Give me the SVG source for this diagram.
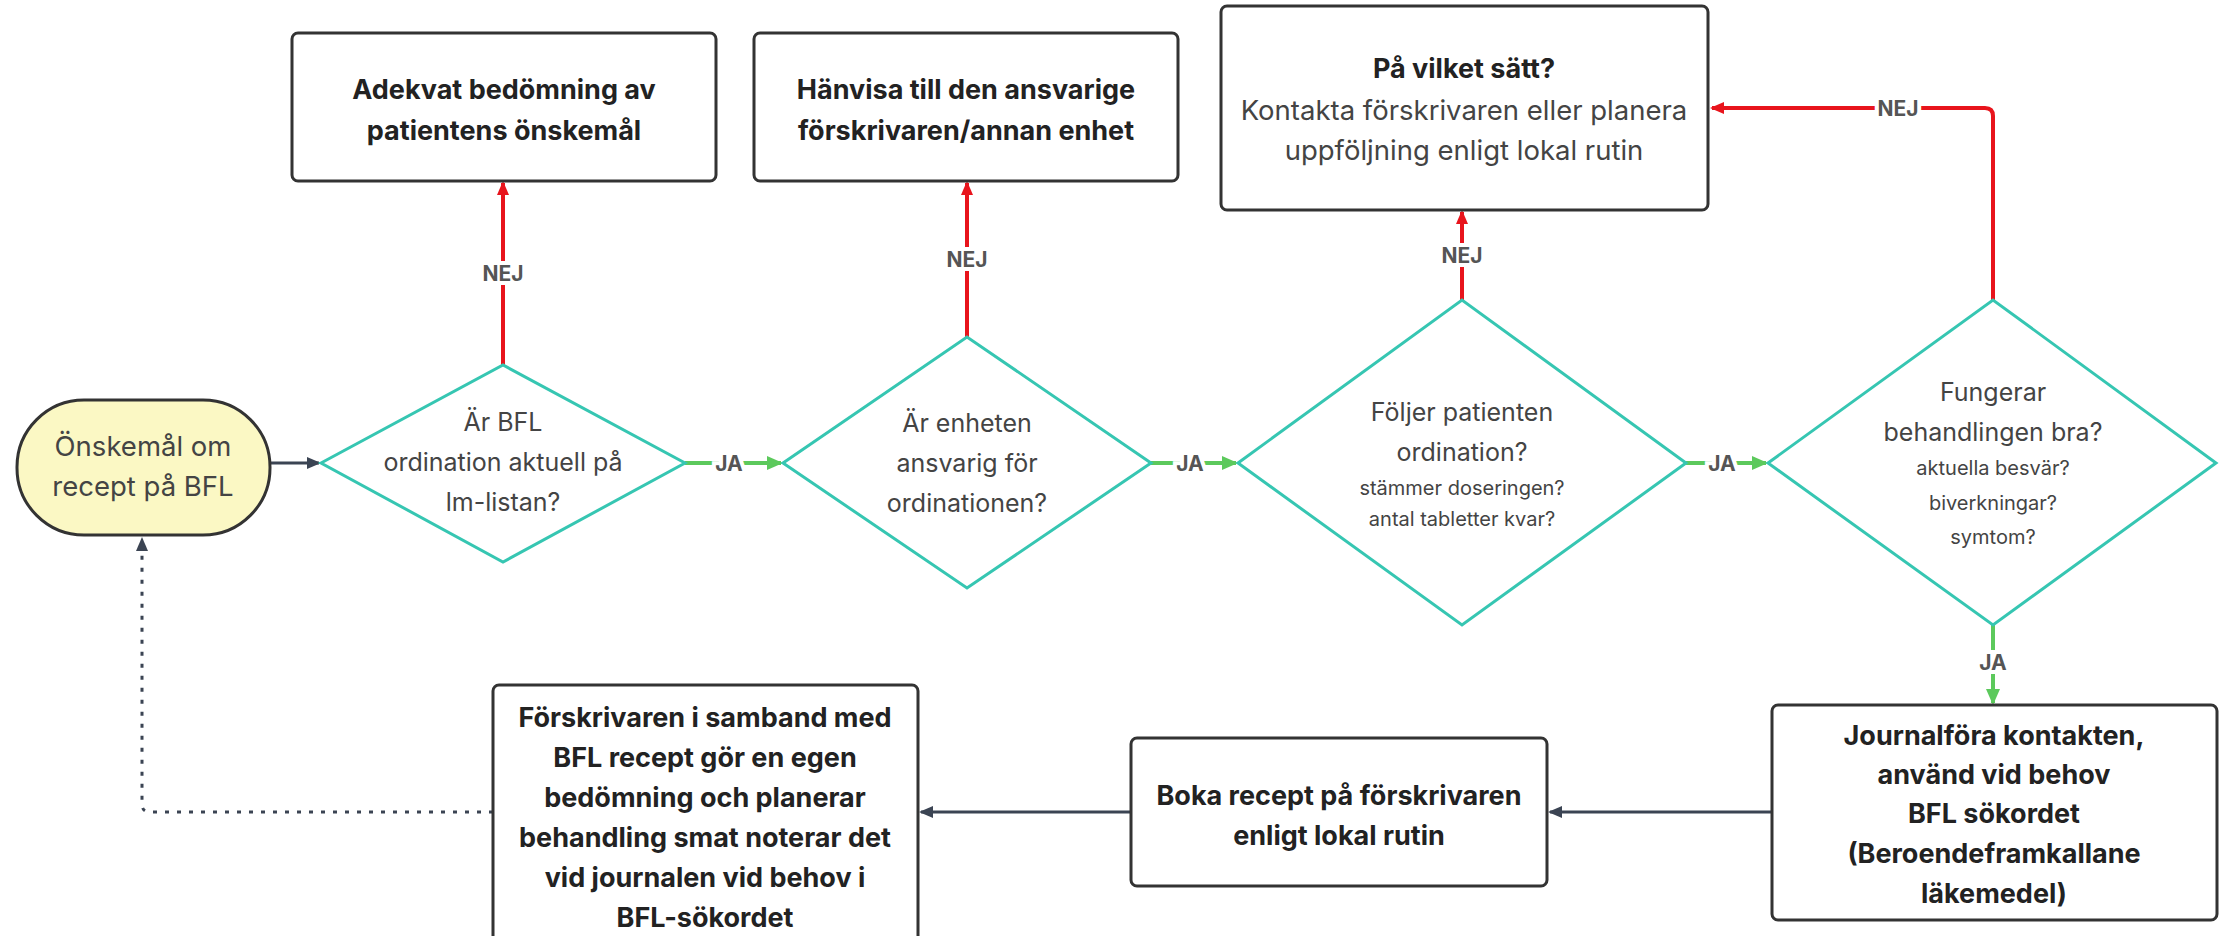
<svg xmlns="http://www.w3.org/2000/svg" width="2226" height="936" viewBox="0 0 2226 936">
<style>
.box{fill:#fff;stroke:#333;stroke-width:3}
.dia{fill:#fff;stroke:#36c6b2;stroke-width:3}
.start{fill:#fbf8c4;stroke:#333;stroke-width:3}
.t{font-family:Inter,"Liberation Sans",sans-serif;font-size:25px;fill:#444;text-anchor:middle;dominant-baseline:central}
.tl{font-family:Inter,"Liberation Sans",sans-serif;font-size:27.5px;fill:#444;text-anchor:middle;dominant-baseline:central}
.tb{font-family:Inter,"Liberation Sans",sans-serif;font-size:27px;font-weight:bold;fill:#222;text-anchor:middle;dominant-baseline:central}
.ts{font-family:Inter,"Liberation Sans",sans-serif;font-size:20px;fill:#444;text-anchor:middle;dominant-baseline:central}
.lbl{font-family:Inter,"Liberation Sans",sans-serif;font-size:21px;font-weight:bold;fill:#555;text-anchor:middle;dominant-baseline:central;stroke:#fff;stroke-width:8;paint-order:stroke}
.red{fill:none;stroke:#e8141c;stroke-width:4}
.green{fill:none;stroke:#5cc95c;stroke-width:4}
.dark{fill:none;stroke:#3b4453;stroke-width:3}
</style>
<defs>
<marker id="ar" markerWidth="14" markerHeight="14" refX="12" refY="7" orient="auto" markerUnits="userSpaceOnUse"><path d="M0,1 L14,7 L0,13 Z" fill="#e8141c"/></marker>
<marker id="ag" markerWidth="16" markerHeight="16" refX="14" refY="8" orient="auto" markerUnits="userSpaceOnUse"><path d="M0,1 L16,8 L0,15 Z" fill="#5cc95c"/></marker>
<marker id="ad" markerWidth="14" markerHeight="14" refX="12" refY="7" orient="auto" markerUnits="userSpaceOnUse"><path d="M0,1 L14,7 L0,13 Z" fill="#3b4453"/></marker>
</defs>

<g id="connectors">
<line class="dark" x1="270" y1="463" x2="319" y2="463" stroke-width="4" marker-end="url(#ad)"/>
<line class="red" x1="503" y1="365" x2="503" y2="183" marker-end="url(#ar)"/>
<text class="lbl" x="503" y="273">NEJ</text>
<line class="green" x1="685" y1="463" x2="781" y2="463" marker-end="url(#ag)"/>
<text class="lbl" x="729" y="463">JA</text>
<line class="red" x1="967" y1="337" x2="967" y2="183" marker-end="url(#ar)"/>
<text class="lbl" x="967" y="259">NEJ</text>
<line class="green" x1="1151" y1="463" x2="1236" y2="463" marker-end="url(#ag)"/>
<text class="lbl" x="1190" y="463">JA</text>
<line class="red" x1="1462" y1="300" x2="1462" y2="212" marker-end="url(#ar)"/>
<text class="lbl" x="1462" y="255">NEJ</text>
<line class="green" x1="1686" y1="463" x2="1766" y2="463" marker-end="url(#ag)"/>
<text class="lbl" x="1722" y="463">JA</text>
<path class="red" d="M1993,300 V116 Q1993,108 1985,108 H1712" marker-end="url(#ar)"/>
<text class="lbl" x="1898" y="108">NEJ</text>
<line class="green" x1="1993" y1="625" x2="1993" y2="703" marker-end="url(#ag)"/>
<text class="lbl" x="1993" y="662">JA</text>
<line class="dark" x1="1772" y1="812" x2="1550" y2="812" marker-end="url(#ad)"/>
<line class="dark" x1="1131" y1="812" x2="921" y2="812" marker-end="url(#ad)"/>
<path class="dark" d="M493,812 H150 Q142,812 142,804 V539" stroke-dasharray="4 8" marker-end="url(#ad)"/>
</g>

<g id="start">
<rect class="start" x="17" y="400" width="253" height="135" rx="67"/>
<text class="tl" x="143" y="446">Önskemål om</text>
<text class="tl" x="143" y="486">recept på BFL</text>
</g>

<g id="d1">
<polygon class="dia" points="321,463 503,365 685,463 503,562"/>
<text class="t" x="503" y="422">Är BFL</text>
<text class="t" x="503" y="462">ordination aktuell på</text>
<text class="t" x="503" y="502">lm-listan?</text>
</g>

<g id="box1">
<rect class="box" x="292" y="33" width="424" height="148" rx="6"/>
<text class="tb" x="504" y="89">Adekvat bedömning av</text>
<text class="tb" x="504" y="130">patientens önskemål</text>
</g>

<g id="d2">
<polygon class="dia" points="783,463 967,337 1151,463 967,588"/>
<text class="t" x="967" y="423">Är enheten</text>
<text class="t" x="967" y="463">ansvarig för</text>
<text class="t" x="967" y="503">ordinationen?</text>
</g>

<g id="box2">
<rect class="box" x="754" y="33" width="424" height="148" rx="6"/>
<text class="tb" x="966" y="89">Hänvisa till den ansvarige</text>
<text class="tb" x="966" y="130">förskrivaren/annan enhet</text>
</g>

<g id="d3">
<polygon class="dia" points="1238,463 1462,300 1686,463 1462,625"/>
<text class="t" x="1462" y="412">Följer patienten</text>
<text class="t" x="1462" y="452">ordination?</text>
<text class="ts" x="1462" y="488">stämmer doseringen?</text>
<text class="ts" x="1462" y="519">antal tabletter kvar?</text>
</g>

<g id="box3">
<rect class="box" x="1221" y="6" width="487" height="204" rx="6"/>
<text class="tb" x="1464" y="68">På vilket sätt?</text>
<text class="tl" x="1464" y="110">Kontakta förskrivaren eller planera</text>
<text class="tl" x="1464" y="150">uppföljning enligt lokal rutin</text>
</g>

<g id="d4">
<polygon class="dia" points="1768,463 1993,300 2216,463 1993,625"/>
<text class="t" x="1993" y="392">Fungerar</text>
<text class="t" x="1993" y="432">behandlingen bra?</text>
<text class="ts" x="1993" y="468">aktuella besvär?</text>
<text class="ts" x="1993" y="503">biverkningar?</text>
<text class="ts" x="1993" y="537">symtom?</text>
</g>

<g id="box_journal">
<rect class="box" x="1772" y="705" width="445" height="215" rx="6"/>
<text class="tb" x="1994" y="735" font-size="31">Journalföra kontakten,</text>
<text class="tb" x="1994" y="774" font-size="31">använd vid behov</text>
<text class="tb" x="1994" y="813" font-size="31">BFL sökordet</text>
<text class="tb" x="1994" y="853" font-size="31">(Beroendeframkallane</text>
<text class="tb" x="1994" y="893" font-size="31">läkemedel)</text>
</g>

<g id="box_boka">
<rect class="box" x="1131" y="738" width="416" height="148" rx="6"/>
<text class="tb" x="1339" y="795" font-size="28.5">Boka recept på förskrivaren</text>
<text class="tb" x="1339" y="835" font-size="28.5">enligt lokal rutin</text>
</g>

<g id="box_forskrivaren">
<rect class="box" x="493" y="685" width="425" height="270" rx="6"/>
<text class="tb" x="705" y="717" font-size="27.5">Förskrivaren i samband med</text>
<text class="tb" x="705" y="757" font-size="27.5">BFL recept gör en egen</text>
<text class="tb" x="705" y="797" font-size="27.5">bedömning och planerar</text>
<text class="tb" x="705" y="837" font-size="27.5">behandling smat noterar det</text>
<text class="tb" x="705" y="877" font-size="27.5">vid journalen vid behov i</text>
<text class="tb" x="705" y="917" font-size="27.5">BFL-sökordet</text>
</g>
</svg>
